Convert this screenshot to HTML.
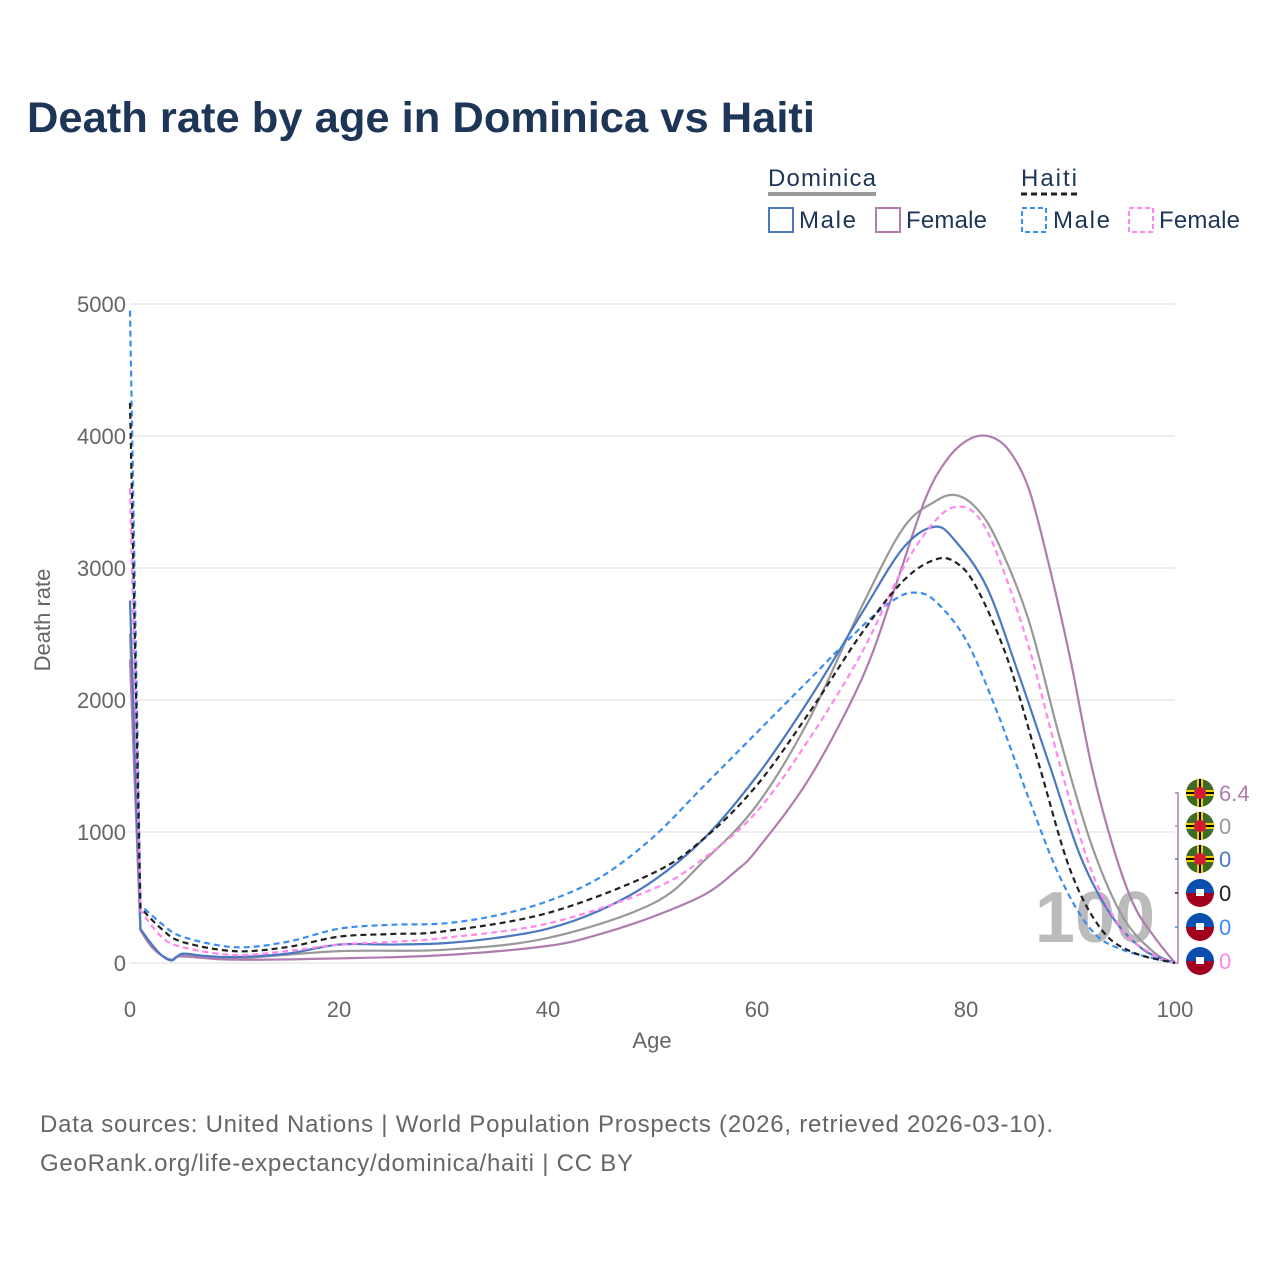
<!DOCTYPE html>
<html><head><meta charset="utf-8"><style>
body{margin:0;background:#fff;font-family:"Liberation Sans",sans-serif}
svg text{font-family:"Liberation Sans",sans-serif}
</style></head><body>
<svg id="s" width="1280" height="1280" xmlns="http://www.w3.org/2000/svg">
<rect width="1280" height="1280" fill="#fff"/>
<text x="27" y="132" font-size="43" font-weight="bold" fill="#1d3557" textLength="788" lengthAdjust="spacingAndGlyphs">Death rate by age in Dominica vs Haiti</text>
<g font-size="24" fill="#1d3557">
<text x="768" y="186" textLength="108">Dominica</text>
<line x1="768" y1="194" x2="876" y2="194" stroke="#999" stroke-width="4"/>
<text x="1021" y="186" textLength="56">Haiti</text>
<line x1="1021" y1="194" x2="1077" y2="194" stroke="#222" stroke-width="3" stroke-dasharray="6,4"/>
<rect x="769" y="208" width="24" height="24" fill="none" stroke="#4C78C0" stroke-width="2"/><text x="799" y="228" textLength="57">Male</text>
<rect x="876" y="208" width="24" height="24" fill="none" stroke="#B07CB0" stroke-width="2"/><text x="906" y="228" textLength="81">Female</text>
<rect x="1022" y="208" width="24" height="24" fill="none" stroke="#3b8ef0" stroke-width="2" stroke-dasharray="5,3"/><text x="1053" y="228" textLength="57">Male</text>
<rect x="1129" y="208" width="24" height="24" fill="none" stroke="#ff88ee" stroke-width="2" stroke-dasharray="5,3"/><text x="1159" y="228" textLength="81">Female</text>
</g>
<g stroke="#e8e8e8" stroke-width="1.5">
<line x1="130" y1="304" x2="1175" y2="304"/><line x1="130" y1="436" x2="1175" y2="436"/><line x1="130" y1="568" x2="1175" y2="568"/><line x1="130" y1="700" x2="1175" y2="700"/><line x1="130" y1="832" x2="1175" y2="832"/><line x1="130" y1="963" x2="1175" y2="963"/>
</g>
<g font-size="22" fill="#666" text-anchor="end">
<text x="126" y="312">5000</text><text x="126" y="444">4000</text><text x="126" y="576">3000</text><text x="126" y="708">2000</text><text x="126" y="840">1000</text><text x="126" y="971">0</text>
</g>
<g font-size="22" fill="#666" text-anchor="middle">
<text x="130" y="1017">0</text><text x="339" y="1017">20</text><text x="548" y="1017">40</text><text x="757" y="1017">60</text><text x="966" y="1017">80</text><text x="1175" y="1017">100</text>
<text x="652" y="1048">Age</text>
<text transform="translate(50,620) rotate(-90)">Death rate</text>
</g>
<text x="1095" y="942" font-size="72" font-weight="bold" fill="#bbb" text-anchor="middle">100</text>
<g id="lines" fill="none" stroke-width="2.2"></g>
<g font-size="22">
<path d="M1175 793 H1178 V963 H1175" fill="none" stroke="#B07CB0" stroke-width="1.5"/>
<line x1="1175" y1="826" x2="1178" y2="826" stroke="#999" stroke-width="1.5"/>
<line x1="1175" y1="859" x2="1178" y2="859" stroke="#4C78C0" stroke-width="1.5"/>
<line x1="1175" y1="893" x2="1178" y2="893" stroke="#222" stroke-width="1.5"/>
<line x1="1175" y1="927" x2="1178" y2="927" stroke="#3b8ef0" stroke-width="1.5"/>
<g id="flags"></g>
<text x="1219" y="801" fill="#B07CB0">6.4</text>
<text x="1219" y="834" fill="#999">0</text>
<text x="1219" y="867" fill="#4C78C0">0</text>
<text x="1219" y="901" fill="#222">0</text>
<text x="1219" y="935" fill="#3b8ef0">0</text>
<text x="1219" y="969" fill="#ff88ee">0</text>
</g>
<g font-size="24" fill="#666">
<text x="40" y="1132" textLength="1013">Data sources: United Nations | World Population Prospects (2026, retrieved 2026-03-10).</text>
<text x="40" y="1171" textLength="593">GeoRank.org/life-expectancy/dominica/haiti | CC BY</text>
</g>
</svg>
<script>
const X=a=>130+a*10.45, Y=v=>963-v*0.1318;
const S=[
["#999",0,[[0,2500],[1,250],[2,130],[3,60],[4,20],[5,55],[10,35],[20,90],[30,100],[40,190],[50,450],[55,780],[60,1200],[65,1850],[70,2700],[74,3300],[77,3500],[79,3550],[81,3450],[83,3200],[86,2600],[89,1700],[92,900],[95,350],[98,80],[100,0]]],
["#B07CB0",0,[[0,2300],[1,250],[2,130],[3,60],[4,25],[5,50],[10,25],[20,35],[30,60],[40,130],[45,220],[50,350],[55,520],[58,700],[60,860],[65,1400],[70,2150],[73,2800],[76,3500],[78,3800],[80,3960],[82,4000],[84,3900],[86,3600],[88,3000],[90,2300],[92,1500],[94,900],[96,450],[98,200],[100,0]]],
["#4C78C0",0,[[0,2750],[1,260],[2,150],[3,60],[4,20],[5,70],[7,55],[10,45],[15,70],[20,140],[25,140],[30,150],[35,190],[40,260],[45,400],[50,620],[55,950],[60,1420],[65,2000],[70,2650],[74,3150],[77,3310],[79,3200],[82,2850],[85,2200],[88,1500],[91,800],[94,350],[97,100],[100,0]]],
["#3b8ef0",1,[[0,4950],[1,440],[3,300],[5,200],[10,120],[15,160],[20,260],[25,290],[30,300],[35,360],[40,470],[45,650],[50,950],[55,1350],[60,1750],[65,2150],[70,2550],[73,2750],[75,2810],[77,2750],[80,2450],[83,1900],[86,1250],[89,650],[92,250],[95,100],[100,0]]],
["#ff88ee",1,[[0,3600],[1,400],[3,200],[5,120],[10,60],[15,90],[20,140],[25,160],[30,190],[40,300],[50,560],[55,800],[60,1150],[65,1700],[70,2350],[74,3000],[77,3350],[79,3460],[81,3400],[83,3100],[86,2400],[89,1500],[92,700],[95,250],[98,60],[100,0]]],
["#222",1,[[0,4250],[1,420],[3,260],[5,160],[10,90],[15,120],[20,200],[25,220],[30,240],[40,380],[50,680],[55,950],[60,1350],[65,1900],[70,2500],[74,2900],[77,3060],[79,3040],[81,2850],[84,2300],[87,1500],[90,700],[93,250],[96,80],[100,0]]]
];
let h="";
for(const [c,d,p] of S){
 const P=p.map(q=>[X(q[0]),Y(q[1])]);
 let s="M"+P[0][0]+" "+P[0][1]+" L"+P[1][0]+" "+P[1][1];
 for(let i=1;i<P.length-1;i++){const a=P[i-1],b=P[i],c2=P[i+1],e=P[i+2]||c2;
  const t=i==1?0:1/6;
  s+=` C${b[0]+(c2[0]-a[0])*t} ${b[1]+(c2[1]-a[1])*t} ${c2[0]-(e[0]-b[0])/6} ${c2[1]-(e[1]-b[1])/6} ${c2[0]} ${c2[1]}`;}
 h+=`<path d="${s}" stroke="${c}" ${d?'stroke-dasharray="6,4"':''}/>`;
}
document.getElementById("lines").innerHTML=h;
let f="";
[793,826,859].forEach(y=>{f+=`<circle cx="1200" cy="${y}" r="14" fill="#3f6b2a"/><rect x="1186" y="${y-3}" width="28" height="6" fill="#f5d000"/><rect x="${1197}" y="${y-14}" width="6" height="28" fill="#f5d000"/><line x1="1186" y1="${y}" x2="1214" y2="${y}" stroke="#000" stroke-width="2"/><line x1="1200" y1="${y-14}" x2="1200" y2="${y+14}" stroke="#000" stroke-width="2"/><circle cx="1200" cy="${y}" r="6" fill="#d41c30"/>`});
[893,927,961].forEach(y=>{f+=`<path d="M1186 ${y} A14 14 0 0 1 1214 ${y} Z" fill="#0a4fb0"/><path d="M1186 ${y} A14 14 0 0 0 1214 ${y} Z" fill="#a0001e"/><rect x="1196" y="${y-4}" width="8" height="7" fill="#fff"/>`});
document.getElementById("flags").innerHTML=f;
</script>
</body></html>
